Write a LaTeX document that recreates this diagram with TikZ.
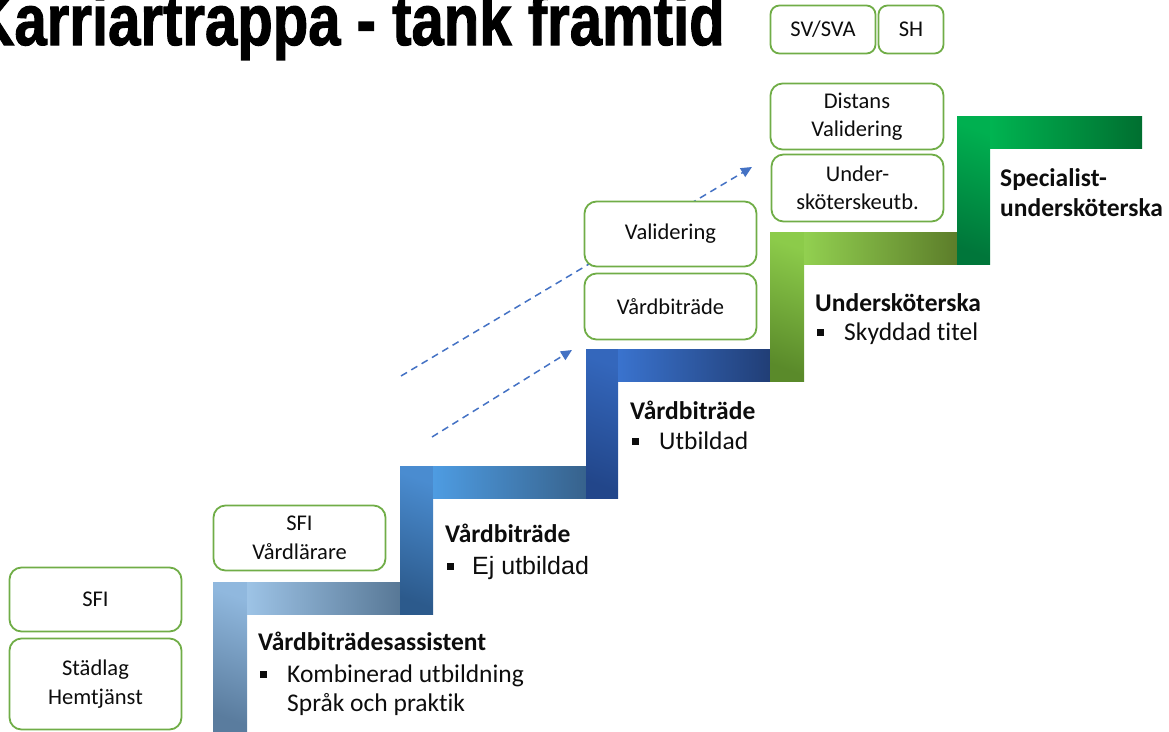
\documentclass[tikz,border=0pt]{standalone}
\usepackage{fontspec}
\setmainfont{Carlito}[Ligatures=NoCommon]
\newfontfamily\arialfont{Liberation Sans}
\newfontfamily\titlefam{Liberation Sans Bold}[FakeBold=1.6]
\usetikzlibrary{arrows.meta}
\definecolor{boxgreen}{HTML}{70AD47}
\definecolor{arrowblue}{HTML}{4472C4}
\definecolor{txt}{HTML}{0D0D0D}
% step 1
\definecolor{sAhl}{HTML}{9DC3E6}\definecolor{sAhr}{HTML}{587896}
\definecolor{sAvt}{HTML}{90B8DE}\definecolor{sAvb}{HTML}{5A7C9E}
% step 2
\definecolor{sBhl}{HTML}{4E9CE2}\definecolor{sBhr}{HTML}{37628C}
\definecolor{sBvt}{HTML}{4A8CD0}\definecolor{sBvb}{HTML}{2C5A8C}
% step 3
\definecolor{sChl}{HTML}{3A73CE}\definecolor{sChr}{HTML}{213E76}
\definecolor{sCvt}{HTML}{3467BC}\definecolor{sCvb}{HTML}{22468A}
% step 4
\definecolor{sDhl}{HTML}{92D050}\definecolor{sDhr}{HTML}{5C7D2A}
\definecolor{sDvt}{HTML}{8CCB4A}\definecolor{sDvb}{HTML}{5A8A2A}
% step 5
\definecolor{sEhl}{HTML}{00B451}\definecolor{sEhr}{HTML}{006F30}
\definecolor{sEvt}{HTML}{00B050}\definecolor{sEvb}{HTML}{00763A}
\newcommand\bul{\rule[4pt]{7pt}{7pt}}
\tikzset{
  box/.style={draw=boxgreen, line width=1.8pt, rounded corners=12pt, fill=white,
    align=center, text=txt, font=\fontsize{22.5}{28.5}\selectfont, inner sep=0pt},
  smallbox/.style={box, rounded corners=9pt},
  lab/.style={anchor=base west, inner sep=0pt, text=txt, font=\fontsize{25.5}{30}\selectfont},
  blab/.style={lab, font=\fontsize{25.5}{30}\selectfont\bfseries},
  dasharrow/.style={draw=arrowblue, line width=1.5pt, dash pattern=on 7pt off 5pt,
    -{Triangle[length=11pt,width=10pt]}},
}
\begin{document}
\begin{tikzpicture}[x=1pt,y=-1pt]
\useasboundingbox (0,0) rectangle (1169,731);
% title
\node[anchor=base east, inner sep=0pt] (title) at (725,45)
  {\scalebox{0.83}[1.03]{\fontsize{70}{70}\titlefam Karriartrappa - tank framtid}};
% stairs
\shade[top color=sAvt, bottom color=sAvb, shading angle=-20] (213,582) rectangle (247,731);
\shade[left color=sAhl, right color=sAhr] (247,582) rectangle (400,614);
\shade[top color=sBvt, bottom color=sBvb, shading angle=-20] (400,466) rectangle (433,614);
\shade[left color=sBhl, right color=sBhr] (433,466) rectangle (586,498);
\shade[top color=sCvt, bottom color=sCvb, shading angle=-20] (586,349) rectangle (618,498);
\shade[left color=sChl, right color=sChr] (618,349) rectangle (770,381);
\shade[top color=sDvt, bottom color=sDvb, shading angle=-20] (770,232) rectangle (804,381);
\shade[left color=sDhl, right color=sDhr] (804,232) rectangle (957,264);
\shade[top color=sEvt, bottom color=sEvb, shading angle=-20] (957,116) rectangle (990,264);
\shade[left color=sEhl, right color=sEhr] (990,116) rectangle (1142,148);
% dashed arrows
\coordinate (a1s) at (401,376);
\coordinate (a1e) at (752,167);
\coordinate (a2s) at (432,437);
\coordinate (a2e) at (572,350);
\draw[dasharrow] (a1s) -- (a1e);
\draw[dasharrow] (a2s) -- (a2e);
% boxes
\node[box, minimum width=172pt, minimum height=64pt] (sfi) at (95.5,599.5) {SFI};
\node[box, minimum width=172pt, minimum height=91pt] (stad) at (95.5,684) {Städlag\\Hemtjänst};
\node[box, minimum width=172pt, minimum height=65pt] (sfiv) at (299.5,538) {SFI\\Vårdlärare};
\node[box, minimum width=172pt, minimum height=65pt] (valid) at (670.5,234) {Validering};
\node[box, minimum width=172pt, minimum height=66pt] (vbbox) at (670.5,306.5) {Vårdbiträde};
\node[box, minimum width=173pt, minimum height=66pt] (dist) at (857,116.5) {Distans\\Validering};
\node[box, minimum width=172pt, minimum height=67pt] (usk) at (857.5,188) {Under-\\sköterskeutb.};
\node[smallbox, minimum width=105pt, minimum height=48pt] (sv) at (823,29.5) {SV/SVA};
\node[smallbox, minimum width=65pt, minimum height=48pt] (sh) at (911,29.5) {SH};
% labels
\node[blab] (l1a) at (258,650) {Vårdbiträdesassistent};
\node[lab] (l1b) at (260,682) {\makebox[27pt][l]{\bul}Kombinerad utbildning};
\node[lab] (l1c) at (287,711) {Språk och praktik};
\node[blab] (l2a) at (445,542) {Vårdbiträde};
\node[lab] (l2b) at (447,574) {\makebox[25pt][l]{\bul}{\arialfont\fontsize{25}{30}\selectfont Ej utbildad}};
\node[blab] (l3a) at (630,419) {Vårdbiträde};
\node[lab] (l3b) at (632,449) {\makebox[27pt][l]{\bul}Utbildad};
\node[blab] (l4a) at (815,311) {Undersköterska};
\node[lab] (l4b) at (817,340) {\makebox[27pt][l]{\bul}Skyddad titel};
\node[blab] (l5a) at (1000,186) {Specialist-};
\node[blab] (l5b) at (1000,216) {undersköterska};
\end{tikzpicture}
\end{document}
